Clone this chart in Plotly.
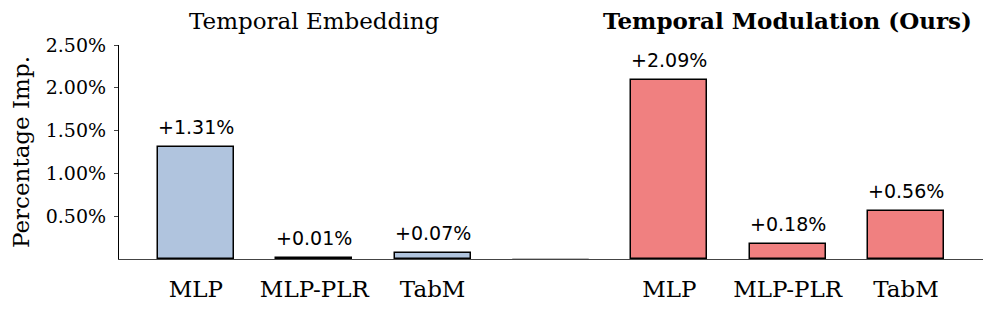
import plotly.graph_objects as go

models = ["MLP", "MLP-PLR", "TabM"]
embedding_vals = [1.31, 0.01, 0.07]
modulation_vals = [2.09, 0.18, 0.56]
group_titles = ["Temporal Embedding", "<b>Temporal Modulation (Ours)</b>"]
y_ticks = [0.5, 1.0, 1.5, 2.0, 2.5]

emb_x = [0, 1, 2]
gap_x = [3]
mod_x = [4, 5, 6]
width = 0.64

fig = go.Figure()
fig.add_trace(go.Bar(x=emb_x, y=embedding_vals, width=width,
                     marker=dict(color="#B0C4DE", line=dict(color="black", width=1.5))))
fig.add_trace(go.Bar(x=gap_x, y=[0], width=width,
                     marker=dict(color="white", line=dict(color="#bbbbbb", width=1))))
fig.add_trace(go.Bar(x=mod_x, y=modulation_vals, width=width,
                     marker=dict(color="#F08080", line=dict(color="black", width=1.5))))

for xs, vals in [(emb_x, embedding_vals), (mod_x, modulation_vals)]:
    for x, v in zip(xs, vals):
        fig.add_annotation(x=x, y=v, text=f"+{v:.2f}%", showarrow=False,
                           yanchor="bottom", yshift=7,
                           font=dict(family="DejaVu Sans", size=19, color="black"))

for x, t in zip([1, 5], group_titles):
    fig.add_annotation(x=x, xref="x", y=1.04, yref="paper", text=t, showarrow=False,
                       yanchor="bottom", font=dict(family="DejaVu Serif", size=23, color="black"))

fig.update_layout(
    width=997, height=313,
    margin=dict(l=111, r=22, t=37, b=62),
    plot_bgcolor="white", paper_bgcolor="white",
    showlegend=False, bargap=0,
    font=dict(family="DejaVu Serif", color="black"),
)
fig.update_xaxes(range=[-0.65, 6.65], tickvals=emb_x + mod_x, ticktext=models + models,
                 showline=True, linecolor="#444444", linewidth=1.2, ticks="",
                 ticklabelstandoff=9, tickfont=dict(size=23, family="DejaVu Serif"),
                 showgrid=False, zeroline=False, automargin=False)
fig.update_yaxes(range=[0, 2.5], tickvals=y_ticks, ticktext=[f"{v:.2f}%" for v in y_ticks],
                 showline=True, linecolor="black", linewidth=1.2, ticks="outside", ticklen=4,
                 ticklabelstandoff=4,
                 tickfont=dict(size=19, family="DejaVu Serif"), showgrid=False, zeroline=False,
                 automargin=False,
                 title=dict(text="Percentage Imp.", font=dict(size=23, family="DejaVu Serif"), standoff=10))

fig.write_html("out.html")
